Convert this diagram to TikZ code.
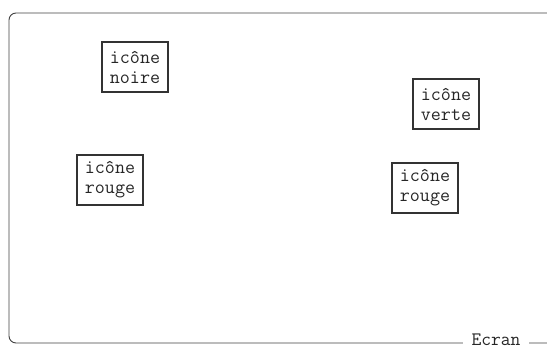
\documentclass[tikz,border=0pt]{standalone}
\usetikzlibrary{positioning}

\begin{document}
\begin{tikzpicture}
[x=1pt, y=-1pt,
 icone/.style={rectangle, draw=black!80, line width=2.4pt, inner sep=4pt, align=center, font=\ttfamily\fontsize{19.5}{20}\selectfont, text=black!85, minimum width=66pt, minimum height=50pt},
 label/.style={fill=white, inner xsep=9pt, inner ysep=0pt, font=\ttfamily\fontsize{19}{20}\selectfont, text=black!85}]

\useasboundingbox (0,0) rectangle (547,349);

%Frame
\draw[black!75, line width=0.9pt, rounded corners=7pt] (9,13) rectangle (600,343);

%Nodes
\node[icone] (noire) at (135,67) {icône\\noire};
\node[icone] (rougeA) at (110,180) {icône\\rouge};
\node[icone] (verte) at (446,104) {icône\\verte};
\node[icone] (rougeB) at (425,188) {icône\\rouge};
\node[label] (ecran) at (496,340) {Ecran};

\end{tikzpicture}
\end{document}
